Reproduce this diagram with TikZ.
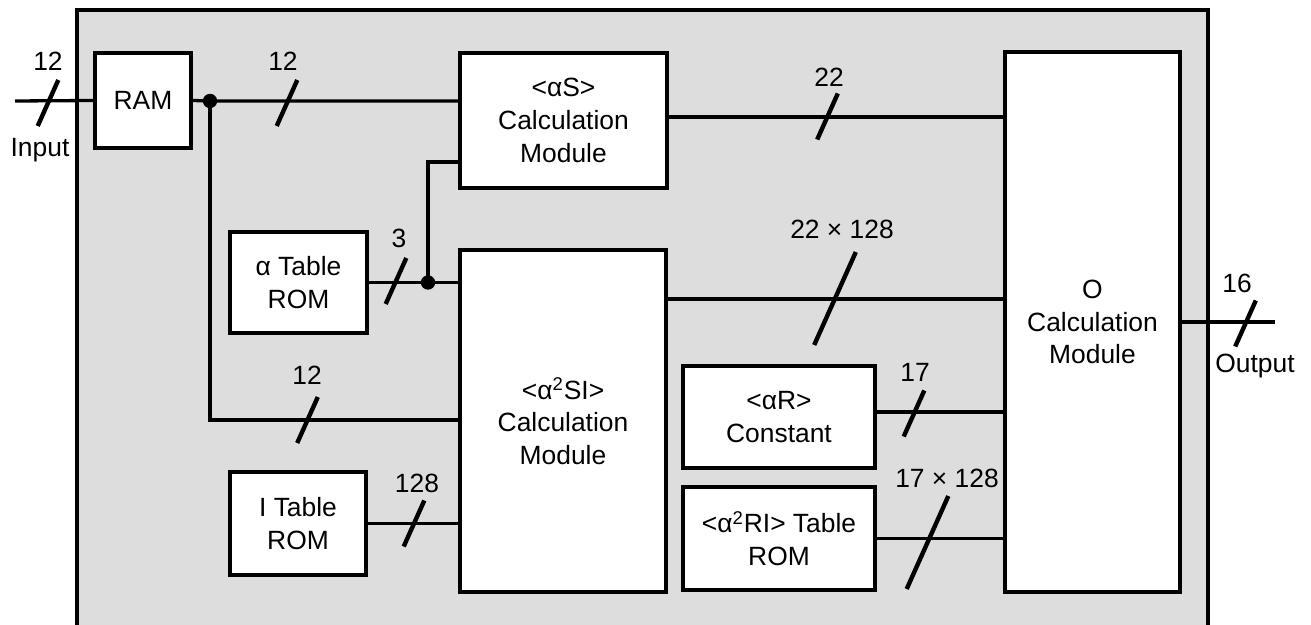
\documentclass[tikz,border=0pt]{standalone}
\usepackage{fontspec}
\setmainfont{Liberation Sans}
\usepackage{xcolor}
\definecolor{panelgray}{RGB}{220,221,220}
\usetikzlibrary{calc}
% slash on a bus line: name, centre, size, label position, label text
\newcommand{\bustick}[5]{%
  \draw[tick,shift={(#2)}] (-10.3*#3,23*#3) -- (10.3*#3,-23*#3);
  \node[lbl] (#1) at (#4) {#5};}

\begin{document}
\begin{tikzpicture}[x=0.5pt,y=-0.5pt,
  font=\fontsize{13.2}{16.3}\selectfont,
  box/.style={draw,fill=white,line width=2pt,inner sep=0pt,align=center},
  wire/.style={line width=1.65pt},
  tick/.style={line width=2.2pt},
  lbl/.style={inner sep=0pt,align=center}]
  \useasboundingbox (0,0) rectangle (1311,625);
  % panel
  \fill[panelgray] (77,10) rectangle (1208,627);
  \draw[line width=1.8pt] (77,627) -- (77,10) -- (1208,10) -- (1208,627);
  % blocks
  \node[box,minimum width=48pt,minimum height=47.5pt] (ram) at (143,100.5) {RAM};
  \node[box,minimum width=103.5pt,minimum height=67.5pt] (sMod) at (563.5,120.5) {<αS>\\Calculation\\Module};
  \node[box,minimum width=68.5pt,minimum height=50.5pt] (arom) at (298.5,282.5) {α Table\\ROM};
  \node[box,minimum width=103pt,minimum height=171pt] (siMod) at (563,421) {<α\textsuperscript{2}SI>\\Calculation\\Module};
  \node[box,minimum width=68pt,minimum height=51.5pt] (irom) at (298,523.5) {I Table\\ROM};
  \node[box,minimum width=96pt,minimum height=51pt] (rConst) at (779,417) {<αR>\\Constant};
  \node[box,minimum width=96pt,minimum height=51.5pt] (rirom) at (779,538.5) {<α\textsuperscript{2}RI> Table\\ROM};
  \node[box,minimum width=87.5pt,minimum height=270pt] (oMod) at (1092.5,322) {O\\Calculation\\Module};
  % ends and junctions
  \coordinate (inp) at (15,101);
  \coordinate (outp) at (1275,322);
  \coordinate (j1) at (210,101);
  \coordinate (j2) at (428,282.5);
  \coordinate (siIn) at (461,420);
  \coordinate (sIn) at (461,162);
  \coordinate (siOut) at (665,299);
  % wires
  \draw[wire] (inp) -- (ram.west);
  \draw[wire] (ram.east) -- (j1) -- (j1 -| sMod.west);
  \draw[wire] (j1) |- (siIn);
  \draw[wire] (arom.east) -- (arom.east -| siMod.west);
  \draw[wire] (j2) |- (sIn);
  \draw[wire] ([yshift=1.75pt]sMod.east) -- ([yshift=1.75pt]sMod.east -| oMod.west);
  \draw[wire] (siOut) -- (siOut -| oMod.west);
  \draw[wire] (irom.east) -- (irom.east -| siMod.west);
  \draw[wire] ([yshift=2.5pt]rConst.east) -- ([yshift=2.5pt]rConst.east -| oMod.west);
  \draw[wire] (rirom.east) -- (rirom.east -| oMod.west);
  \draw[wire] (oMod.east) -- (outp);
  \fill (j1) circle[radius=3.6pt];
  \fill (j2) circle[radius=3.6pt];
  % bus widths
  \bustick{wIn}{48,103}{1}{48,61}{12}
  \bustick{wRam}{287,103}{1}{283,61}{12}
  \bustick{wAlpha}{396,281}{1}{399,238}{3}
  \bustick{wS}{827.5,116.5}{1}{829,77}{22}
  \bustick{wSI}{835,298.5}{2.02}{842,229}{22 × 128}
  \bustick{wLow}{307.5,420}{1}{307,375}{12}
  \bustick{wI}{414,523.5}{1}{417,483}{128}
  \bustick{wR}{914,413.5}{1}{915,372}{17}
  \bustick{wRI}{927.5,542.5}{2.02}{947,478}{17 × 128}
  \bustick{wOut}{1245.5,323.5}{1}{1237,283}{16}
  \node[lbl] (inLbl) at (40,150) {Input};
  \node[lbl] (outLbl) at (1255,366) {Output};
\end{tikzpicture}
\end{document}
